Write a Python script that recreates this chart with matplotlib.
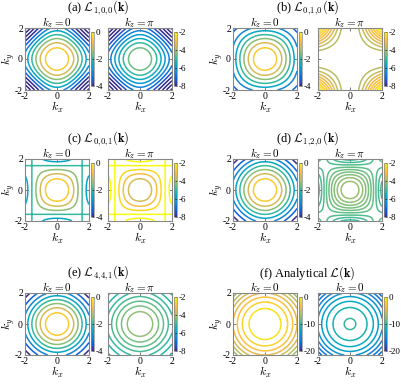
import numpy as np
import matplotlib
matplotlib.use("Agg")
import matplotlib.pyplot as plt
from matplotlib.colors import LinearSegmentedColormap, Normalize
from matplotlib.cm import ScalarMappable

plt.rcParams["font.family"] = "Liberation Serif"
plt.rcParams["mathtext.fontset"] = "cm"
plt.rcParams["axes.unicode_minus"] = False

# ---------------------------------------------------------------------------
# Panel data
# ---------------------------------------------------------------------------
panel_titles = [
    r"(a) $\mathcal{L}_{1,\!0,\!0}(\mathbf{k})$",
    r"(b) $\mathcal{L}_{0,\!1,\!0}(\mathbf{k})$",
    r"(c) $\mathcal{L}_{0,\!0,\!1}(\mathbf{k})$",
    r"(d) $\mathcal{L}_{1,\!2,\!0}(\mathbf{k})$",
    r"(e) $\mathcal{L}_{4,\!4,\!1}(\mathbf{k})$",
    r"(f) Analytical $\mathcal{L}(\mathbf{k})$",
]
# stencil weights (nearest, face diagonal, body diagonal); None = analytical -k^2
stencil_weights = [(1, 0, 0), (0, 1, 0), (0, 0, 1), (1, 2, 0), (4, 4, 1), None]
kz_values = [0.0, np.pi]
sub_titles = [
    [r"$k_z = 0$", r"$k_z = \pi$"],
    [r"$k_z = 0$", r"$k_z = \pi$"],
    [r"$k_z = 0$", r"$k_z = \pi$"],
    [r"$k_z = 0$", r"$k_z = \pi$"],
    [r"$k_z = 0$", r"$k_z = \pi$"],
    [r"$k_z = 0$", r"$k_z = 0$"],
]
level_steps = [(0.5, 0.5), (0.5, 0.2), (0.5, 0.5), (0.5, 0.1), (0.5, 0.2), (1.0, 1.0)]
color_limits = [[(-4, 0), (-8, -2)]] * 5 + [[(-20, 0), (-20, 0)]]
cbar_ticks = [[[0, -2, -4], [-2, -4, -6, -8]]] * 5 + [[[0, -10, -20], [0, -10, -20]]]
axis_ticks = [-2, 0, 2]
k_range = (-2, 2)

# MATLAB parula (sampled)
parula_rgb = [
    (0.2081, 0.1663, 0.5292), (0.2081, 0.2386, 0.6771), (0.1253, 0.3242, 0.8303),
    (0.0060, 0.4086, 0.8828), (0.0498, 0.4586, 0.8641), (0.0779, 0.5040, 0.8384),
    (0.0641, 0.5570, 0.8240), (0.0265, 0.6137, 0.8135), (0.0228, 0.6535, 0.7768),
    (0.0590, 0.6838, 0.7254), (0.1453, 0.7098, 0.6646), (0.2586, 0.7317, 0.5954),
    (0.3953, 0.7459, 0.5244), (0.5300, 0.7491, 0.4661), (0.6473, 0.7456, 0.4188),
    (0.7525, 0.7384, 0.3768), (0.8507, 0.7299, 0.3360), (0.9450, 0.7261, 0.2886),
    (0.9990, 0.7653, 0.2164), (0.9789, 0.8271, 0.1633), (0.9589, 0.8949, 0.1132),
    (0.9763, 0.9831, 0.0538),
]
parula = LinearSegmentedColormap.from_list("parula", parula_rgb)


def lattice_symbol(w, kx, ky, kz):
    cx, cy, cz = np.cos(kx), np.cos(ky), np.cos(kz)
    l1 = 2 * (cx + cy + cz) - 6
    l2 = cx * cy + cx * cz + cy * cz - 3
    l3 = 2 * (cx * cy * cz - 1)
    if w is None:
        return -(kx ** 2 + ky ** 2 + kz ** 2)
    return (w[0] * l1 + w[1] * l2 + w[2] * l3) / sum(w)


def auto_levels(z, step):
    lo, hi = z.min(), z.max()
    lv = np.arange(np.floor(lo / step) * step, hi + step, step)
    return lv[(lv > lo + 1e-6) & (lv < hi - 1e-6)]


# ---------------------------------------------------------------------------
# Layout (pixels)
# ---------------------------------------------------------------------------
W, H = 401, 384
fig = plt.figure(figsize=(W / 100, H / 100), dpi=100)

col_lefts = [(25, 108), (233, 318)]
row_tops = [28, 159, 293]
aw, ah = 64, 62


def px_axes(left, top, w, h):
    return fig.add_axes([left / W, 1 - (top + h) / H, w / W, h / H])


g = np.linspace(k_range[0], k_range[1], 301)
KX, KY = np.meshgrid(g, g)

for p in range(6):
    row, col = p // 2, p % 2
    top = row_tops[row]
    lefts = col_lefts[col]
    for j in range(2):
        ax = px_axes(lefts[j], top, aw, ah)
        z = lattice_symbol(stencil_weights[p], KX, KY, kz_values[j])
        vmin, vmax = color_limits[p][j]
        norm = Normalize(vmin=vmin, vmax=vmax)
        ax.contour(KX, KY, z, levels=auto_levels(z, level_steps[p][j]),
                   cmap=parula, norm=norm, linewidths=1.1)
        ax.set_xlim(k_range)
        ax.set_ylim(k_range)
        ax.set_xticks(axis_ticks)
        ax.set_yticks(axis_ticks)
        ax.tick_params(direction="in", length=2, width=0.5, labelsize=7,
                       top=True, right=True, pad=1.5, colors="#444444",
                       labelcolor="black")
        for s in ax.spines.values():
            s.set_color("#888888")
            s.set_linewidth(0.8)
        ax.set_xlabel(r"$k_x$", fontsize=8.5, labelpad=-0.5)
        if j == 0:
            ax.set_ylabel(r"$k_y$", fontsize=8.5, labelpad=-1.5)
        else:
            ax.set_yticklabels([])
        ax.set_title(sub_titles[p][j], fontsize=8, pad=1.5)

        # colorbar
        cax = px_axes(lefts[j] + aw + 2, top + 4, 3, ah - 8)
        cb = fig.colorbar(ScalarMappable(norm=norm, cmap=parula), cax=cax)
        cb.set_ticks(cbar_ticks[p][j])
        cb.ax.tick_params(labelsize=6.5, length=1.5, width=0.4, direction="in", pad=1.5)
        cb.outline.set_linewidth(0.5)
        cb.outline.set_edgecolor("#888888")

    cx_mid = (lefts[0] + lefts[1] + aw) / 2
    fig.text(cx_mid / W, 1 - (top - 20) / H, panel_titles[p], fontsize=9,
             ha="center", va="center")

fig.savefig("out.png", dpi=100)
